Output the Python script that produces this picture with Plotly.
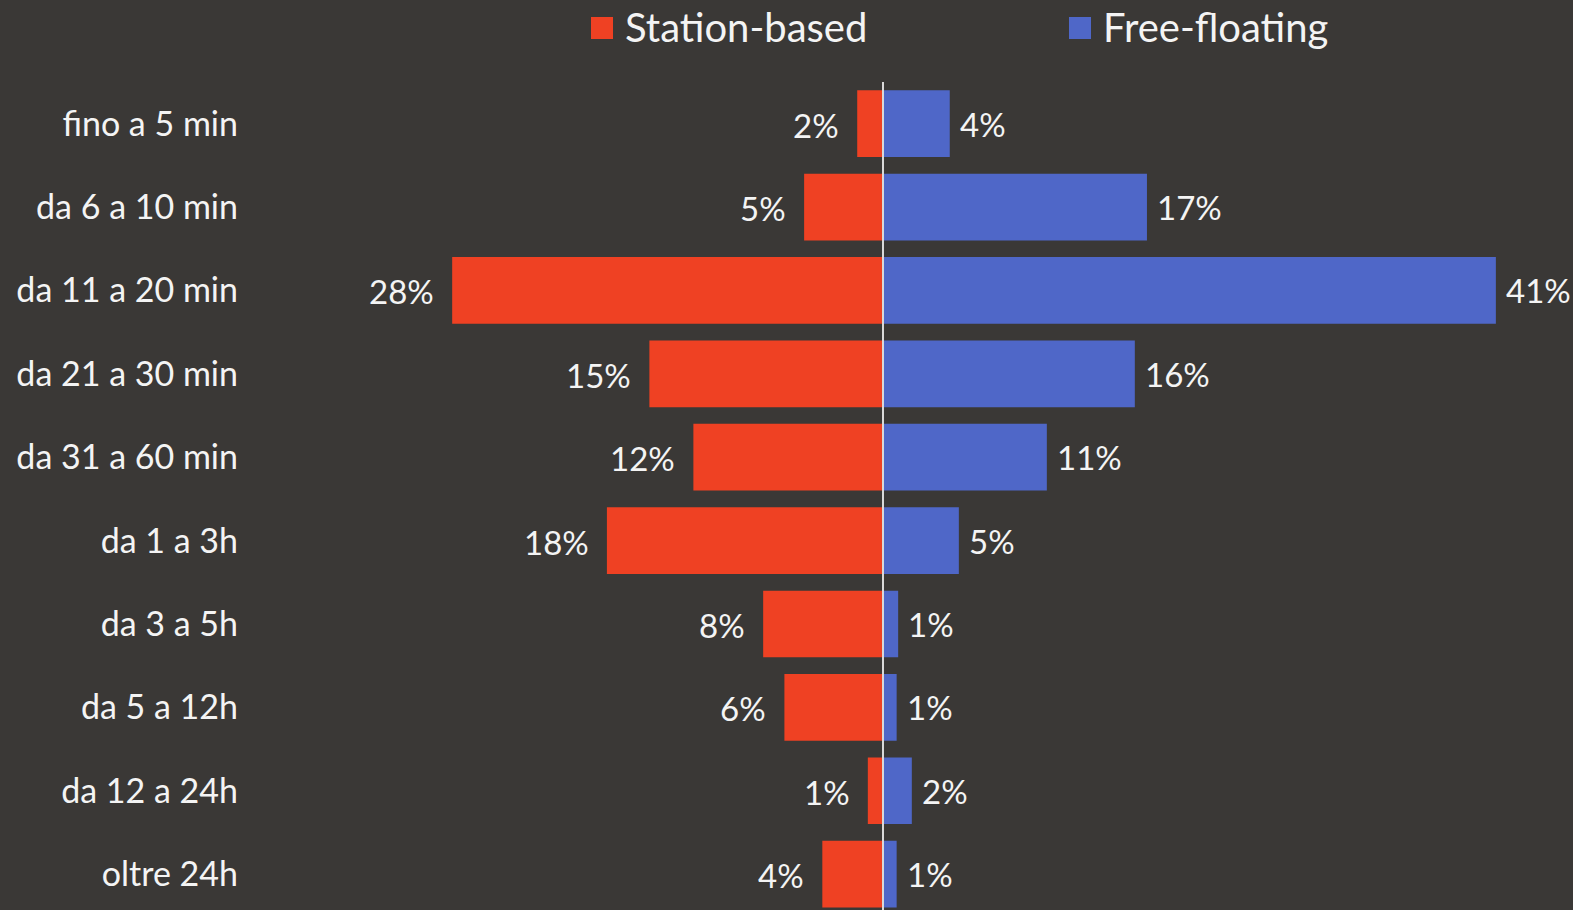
import plotly.graph_objects as go

categories = ["fino a 5 min", "da 6 a 10 min", "da 11 a 20 min", "da 21 a 30 min",
              "da 31 a 60 min", "da 1 a 3h", "da 3 a 5h", "da 5 a 12h",
              "da 12 a 24h", "oltre 24h"]
station_values = [1.7, 5.2, 28.4, 15.4, 12.5, 18.2, 7.9, 6.5, 1.0, 4.0]
station_labels = ["2%", "5%", "28%", "15%", "12%", "18%", "8%", "6%", "1%", "4%"]
free_values = [4.4, 17.4, 40.4, 16.6, 10.8, 5.0, 1.0, 0.9, 1.9, 0.9]
free_labels = ["4%", "17%", "41%", "16%", "11%", "5%", "1%", "1%", "2%", "1%"]
series_names = ["Station-based", "Free-floating"]

BG = "#3a3836"
RED = "#ef4123"
BLUE = "#4f67c8"
TXT = "#f4f4f4"
FONT = "Lato"

FIG_W, FIG_H = 1573, 910
L, R, T, B = 245, 0, 82, 0
PW, PH = FIG_W - L - R, FIG_H - T - B
SCALE = 15.17  # px per unit
ZERO_PX = 883
x_lo = -(ZERO_PX - L) / SCALE
x_hi = (FIG_W - R - ZERO_PX) / SCALE

fig = go.Figure()
fig.add_trace(go.Bar(y=categories, x=[-v for v in station_values], orientation="h",
                     marker=dict(color=RED, line=dict(width=0)), name=series_names[0],
                     showlegend=False, hoverinfo="skip"))
fig.add_trace(go.Bar(y=categories, x=free_values, orientation="h",
                     marker=dict(color=BLUE, line=dict(width=0)), name=series_names[1],
                     showlegend=False, hoverinfo="skip"))

annotations = []
for c, v, t in zip(categories, station_values, station_labels):
    annotations.append(dict(x=-v, y=c, xref="x", yref="y", text=t, showarrow=False,
                            xanchor="right", xshift=-16, yshift=-1,
                            font=dict(family=FONT, size=33, color=TXT)))
for c, v, t in zip(categories, free_values, free_labels):
    annotations.append(dict(x=v, y=c, xref="x", yref="y", text=t, showarrow=False,
                            xanchor="left", xshift=8, yshift=0,
                            font=dict(family=FONT, size=33, color=TXT)))

def px_x(px):
    return (px - L) / PW

def px_y(py):
    return (FIG_H - B - py) / PH

shapes = [dict(type="line", xref="x", yref="paper", x0=0, x1=0, y0=0, y1=1,
               line=dict(color="#d9d9d9", width=2), layer="above")]
# manual legend
legend_items = [(series_names[0], RED, 591), (series_names[1], BLUE, 1069)]
for name, col, sx in legend_items:
    shapes.append(dict(type="rect", xref="paper", yref="paper",
                       x0=px_x(sx), x1=px_x(sx + 22), y0=px_y(39), y1=px_y(17),
                       fillcolor=col, line=dict(width=0)))
    annotations.append(dict(x=px_x(sx + 32), y=px_y(27), xref="paper", yref="paper",
                            text=name, showarrow=False, xanchor="left", yanchor="middle",
                            font=dict(family=FONT, size=40, color=TXT)))

fig.update_layout(
    width=FIG_W, height=FIG_H,
    paper_bgcolor=BG, plot_bgcolor=BG,
    margin=dict(l=L, r=R, t=T, b=B, pad=0),
    barmode="overlay", bargap=0.2,
    xaxis=dict(range=[x_lo, x_hi], visible=False, showgrid=False, zeroline=False),
    yaxis=dict(categoryorder="array", categoryarray=categories,
               range=[len(categories) - 0.57, -0.5],
               showgrid=False, zeroline=False, showline=False, ticks="",
               ticklabelstandoff=6,
               tickfont=dict(family=FONT, size=34, color=TXT)),
    annotations=annotations, shapes=shapes, showlegend=False,
    font=dict(family=FONT, color=TXT),
)

fig.write_html("out.html", config={"displayModeBar": False},
               post_script="document.body.style.margin='0';document.body.style.padding='0';document.body.style.overflow='hidden';document.body.style.background='" + BG + "';")
